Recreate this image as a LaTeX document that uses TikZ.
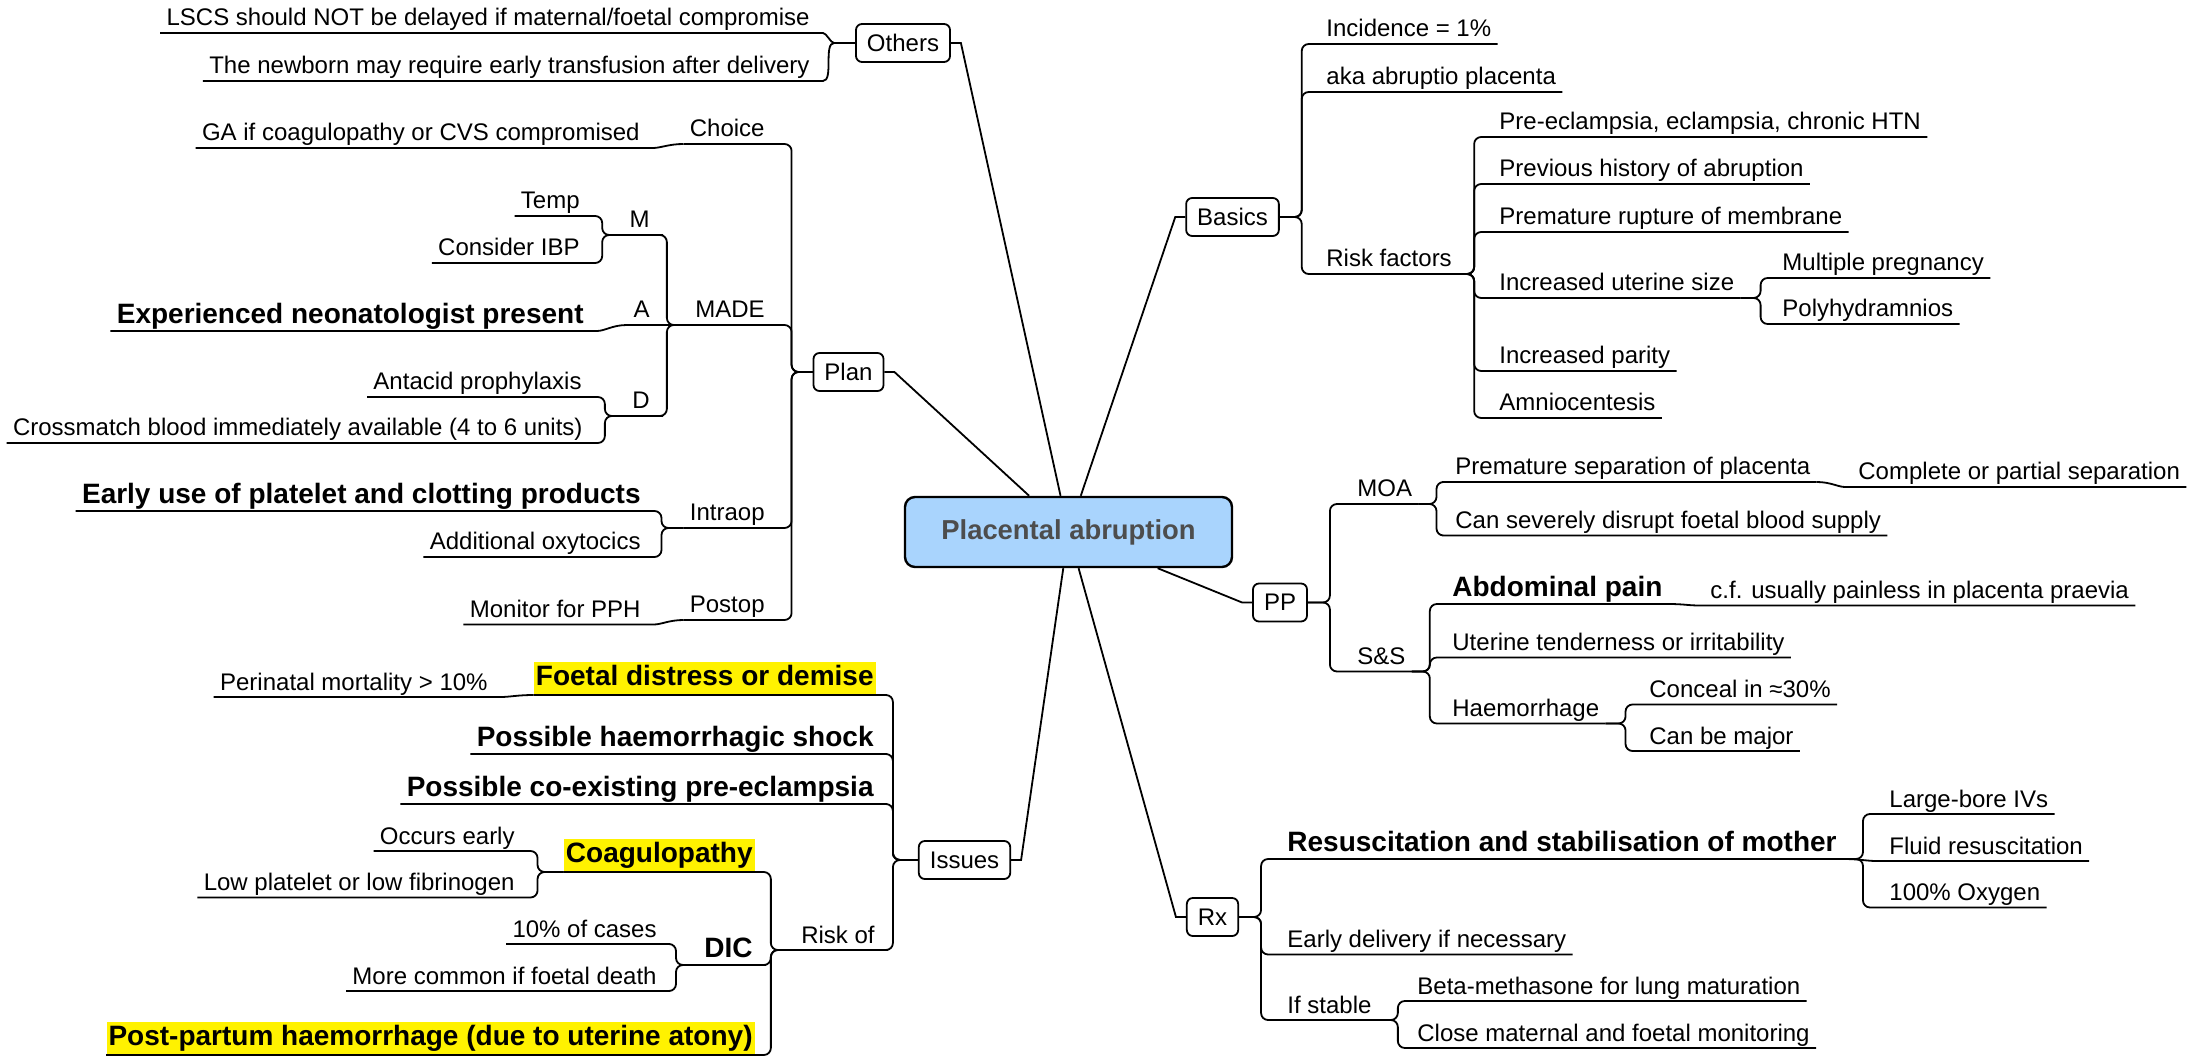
\documentclass[tikz,border=0pt]{standalone}
\usepackage{fontspec}
\setmainfont{Liberation Sans}
\definecolor{rootblue}{HTML}{A9D4FD}
\definecolor{rootgray}{HTML}{4D4D4D}
\tikzset{
  topic/.style={draw, line width=0.9pt, rounded corners=3pt, inner xsep=5.5pt,
    minimum height=19pt, font=\fontsize{12}{14}\selectfont},
  leaf/.style={inner xsep=3pt, inner ysep=0.5pt, text height=9pt, text depth=2.8pt,
    font=\fontsize{12}{14}\selectfont},
  bigleaf/.style={leaf, text height=10.5pt, text depth=3.2pt,
    font=\fontsize{14}{16}\selectfont\bfseries},
  hl/.style={bigleaf, fill=yellow, inner xsep=1pt, inner ysep=1.2pt},
  link/.style={line width=0.9pt, rounded corners=3.5pt},
  spoke/.style={line width=0.9pt},
}

\begin{document}
\begin{tikzpicture}[x=0.5pt,y=-0.5pt]
  \useasboundingbox (0,0) rectangle (2190,1058);

  % centre and main branches
  \node[draw, line width=1.2pt, rounded corners=5pt, fill=rootblue, text=rootgray,
    minimum width=163.5pt, minimum height=35pt,
    font=\fontsize{13.7}{16}\selectfont\bfseries] (root) at (1068.5,532) {Placental abruption};
  \node[topic] (oth) at (903,43) {Others};
  \node[topic] (plan) at (848.5,372) {Plan};
  \node[topic] (iss) at (964.5,860) {Issues};
  \node[topic] (bas) at (1232.5,217) {Basics};
  \node[topic] (pp) at (1280,602.5) {PP};
  \node[topic] (rx) at (1212.5,917) {Rx};

  % Others
  \node[leaf, anchor=south east] (lscs) at (816,33) {LSCS should NOT be delayed if maternal/foetal compromise};
  \node[leaf, anchor=south east] (newborn) at (816,81) {The newborn may require early transfusion after delivery};

  % Plan
  \node[leaf, anchor=south east] (choice) at (771,144) {Choice};
  \node[leaf, anchor=south east] (ga) at (646,148) {GA if coagulopathy or CVS compromised};
  \node[leaf, anchor=south east] (made) at (771,325) {MADE};
  \node[leaf, anchor=south east] (m) at (656,235) {M};
  \node[leaf, anchor=south east] (temp) at (586,216) {Temp};
  \node[leaf, anchor=south east] (ibp) at (586,263) {Consider IBP};
  \node[leaf, anchor=south east] (a) at (656,325) {A};
  \node[bigleaf, anchor=south east] (neo) at (590,331) {Experienced neonatologist present};
  \node[leaf, anchor=south east] (d) at (656,416) {D};
  \node[leaf, anchor=south east] (antacid) at (588,397) {Antacid prophylaxis};
  \node[leaf, anchor=south east] (xmatch) at (589,443) {Crossmatch blood immediately available (4 to 6 units)};
  \node[leaf, anchor=south east] (intraop) at (771,528) {Intraop};
  \node[bigleaf, anchor=south east] (products) at (647,511) {Early use of platelet and clotting products};
  \node[leaf, anchor=south east] (oxytoc) at (647,557) {Additional oxytocics};
  \node[leaf, anchor=south east] (postop) at (771,620) {Postop};
  \node[leaf, anchor=south east] (pph) at (647,624.5) {Monitor for PPH};

  % Issues
  \node[hl, anchor=south east] (distress) at (876,695) {Foetal distress or demise};
  \node[leaf, anchor=south east] (mort) at (494,697) {Perinatal mortality > 10\%};
  \node[bigleaf, anchor=south east] (shock) at (880,754) {Possible haemorrhagic shock};
  \node[bigleaf, anchor=south east] (coexist) at (880,804) {Possible co-existing pre-eclampsia};
  \node[leaf, anchor=south east] (riskof) at (881,950) {Risk of};
  \node[hl, anchor=south east] (coag) at (755,872) {Coagulopathy};
  \node[leaf, anchor=south east] (early) at (521,851) {Occurs early};
  \node[leaf, anchor=south east] (lowplt) at (521,897.5) {Low platelet or low fibrinogen};
  \node[bigleaf, anchor=south east] (dic) at (759,965) {DIC};
  \node[leaf, anchor=south east] (tenpc) at (663,944) {10\% of cases};
  \node[leaf, anchor=south east] (death) at (663,991) {More common if foetal death};
  \node[hl, anchor=south east] (atony) at (755,1055) {Post-partum haemorrhage (due to uterine atony)};

  % Basics
  \node[leaf, anchor=south west] (inc) at (1320,44) {Incidence = 1\%};
  \node[leaf, anchor=south west] (aka) at (1320,92) {aka abruptio placenta};
  \node[leaf, anchor=south west] (rf) at (1320,274) {Risk factors};
  \node[leaf, anchor=south west] (htn) at (1493,137) {Pre-eclampsia, eclampsia, chronic HTN};
  \node[leaf, anchor=south west] (hist) at (1493,184) {Previous history of abruption};
  \node[leaf, anchor=south west] (prom) at (1493,232) {Premature rupture of membrane};
  \node[leaf, anchor=south west] (size) at (1493,298) {Increased uterine size};
  \node[leaf, anchor=south west] (multi) at (1776,278) {Multiple pregnancy};
  \node[leaf, anchor=south west] (poly) at (1776,324) {Polyhydramnios};
  \node[leaf, anchor=south west] (parity) at (1493,371) {Increased parity};
  \node[leaf, anchor=south west] (amnio) at (1493,418) {Amniocentesis};

  % PP
  \node[leaf, anchor=south west] (moa) at (1351,504) {MOA};
  \node[leaf, anchor=south west] (sep) at (1449,482) {Premature separation of placenta};
  \node[leaf, anchor=south west] (partial) at (1852,487) {Complete or partial separation};
  \node[leaf, anchor=south west] (supply) at (1449,535.5) {Can severely disrupt foetal blood supply};
  \node[leaf, anchor=south west] (ss) at (1351,671.5) {S\&S};
  \node[bigleaf, anchor=south west] (pain) at (1446,604) {Abdominal pain};
  \node[leaf, anchor=south west] (praevia) at (1704,605.5) {c.f. usually painless in placenta praevia};
  \node[leaf, anchor=south west] (tender) at (1446,657.5) {Uterine tenderness or irritability};
  \node[leaf, anchor=south west] (haem) at (1446,723.5) {Haemorrhage};
  \node[leaf, anchor=south west] (conceal) at (1643,704.5) {Conceal in ≈30\%};
  \node[leaf, anchor=south west] (major) at (1643,751) {Can be major};

  % Rx
  \node[bigleaf, anchor=south west] (resus) at (1281,859) {Resuscitation and stabilisation of mother};
  \node[leaf, anchor=south west] (ivs) at (1883,814) {Large-bore IVs};
  \node[leaf, anchor=south west] (fluid) at (1883,861) {Fluid resuscitation};
  \node[leaf, anchor=south west] (oxygen) at (1883,907.5) {100\% Oxygen};
  \node[leaf, anchor=south west] (delivery) at (1281,954.5) {Early delivery if necessary};
  \node[leaf, anchor=south west] (stable) at (1281,1020) {If stable};
  \node[leaf, anchor=south west] (beta) at (1411,1001) {Beta-methasone for lung maturation};
  \node[leaf, anchor=south west] (monitor) at (1411,1048) {Close maternal and foetal monitoring};

  % spokes to the centre
  \foreach \br in {oth,plan,iss}
    \draw[spoke] (\br.east) -- ++(10,0) -- (root);
  \foreach \br in {bas,pp,rx}
    \draw[spoke] (\br.west) -- ++(-10,0) -- (root);

  % left side branches (underline drawn with the link)
  \foreach \kid in {lscs,newborn}
    \draw[link] (oth.west) -- ++(-14,0) to[out=180,in=0] (\kid.south east) -- (\kid.south west);
  \foreach \kid in {choice,made,intraop,postop}
    \draw[link] (plan.west) -- ++(-21,0) |- (\kid.south east) -- (\kid.south west);
  \draw[link] (choice.south west) to[out=180,in=0] (ga.south east) -- (ga.south west);
  \foreach \kid in {m,d}
    \draw[link] (made.south west) -- ++(-22,0) |- (\kid.south east) -- (\kid.south west);
  \draw[link] (made.south west) -- (a.south east) -- (a.south west);
  \foreach \kid in {temp,ibp}
    \draw[link] (m.south west) -- ++(-21,0) |- (\kid.south east) -- (\kid.south west);
  \draw[link] (a.south west) to[out=180,in=0] (neo.south east) -- (neo.south west);
  \foreach \kid in {antacid,xmatch}
    \draw[link] (d.south west) -- ++(-21,0) |- (\kid.south east) -- (\kid.south west);
  \foreach \kid in {products,oxytoc}
    \draw[link] (intraop.south west) -- ++(-22,0) |- (\kid.south east) -- (\kid.south west);
  \draw[link] (postop.south west) to[out=180,in=0] (pph.south east) -- (pph.south west);

  \foreach \kid in {distress,shock,coexist,riskof}
    \draw[link] (iss.west) -- ++(-25,0) |- (\kid.south east) -- (\kid.south west);
  \draw[link] (distress.south west) to[out=180,in=0] (mort.south east) -- (mort.south west);
  \foreach \kid in {coag,dic,atony}
    \draw[link] (riskof.south west) -- ++(-24,0) |- (\kid.south east) -- (\kid.south west);
  \foreach \kid in {early,lowplt}
    \draw[link] (coag.south west) -- ++(-26,0) |- (\kid.south east) -- (\kid.south west);
  \foreach \kid in {tenpc,death}
    \draw[link] (dic.south west) -- ++(-22,0) |- (\kid.south east) -- (\kid.south west);

  % right side branches
  \foreach \kid in {inc,aka,rf}
    \draw[link] (bas.east) -- ++(22,0) |- (\kid.south west) -- (\kid.south east);
  \foreach \kid in {htn,hist,prom,size,parity,amnio}
    \draw[link] (rf.south east) -- ++(16,0) |- (\kid.south west) -- (\kid.south east);
  \foreach \kid in {multi,poly}
    \draw[link] (size.south east) -- ++(20,0) |- (\kid.south west) -- (\kid.south east);
  \foreach \kid in {moa,ss}
    \draw[link] (pp.east) -- ++(22,0) |- (\kid.south west) -- (\kid.south east);
  \foreach \kid in {sep,supply}
    \draw[link] (moa.south east) -- ++(18,0) |- (\kid.south west) -- (\kid.south east);
  \draw[link] (sep.south east) to[out=0,in=180] (partial.south west) -- (partial.south east);
  \foreach \kid in {pain,tender,haem}
    \draw[link] (ss.south east) -- ++(18,0) |- (\kid.south west) -- (\kid.south east);
  \draw[link] (pain.south east) to[out=0,in=180] (praevia.south west) -- (praevia.south east);
  \foreach \kid in {conceal,major}
    \draw[link] (haem.south east) -- ++(20,0) |- (\kid.south west) -- (\kid.south east);
  \foreach \kid in {resus,delivery,stable}
    \draw[link] (rx.east) -- ++(22,0) |- (\kid.south west) -- (\kid.south east);
  \foreach \kid in {ivs,oxygen}
    \draw[link] (resus.south east) -- ++(20,0) |- (\kid.south west) -- (\kid.south east);
  \draw[link] (resus.south east) to[out=0,in=180] (fluid.south west) -- (fluid.south east);
  \foreach \kid in {beta,monitor}
    \draw[link] (stable.south east) -- ++(20,0) |- (\kid.south west) -- (\kid.south east);
\end{tikzpicture}
\end{document}
